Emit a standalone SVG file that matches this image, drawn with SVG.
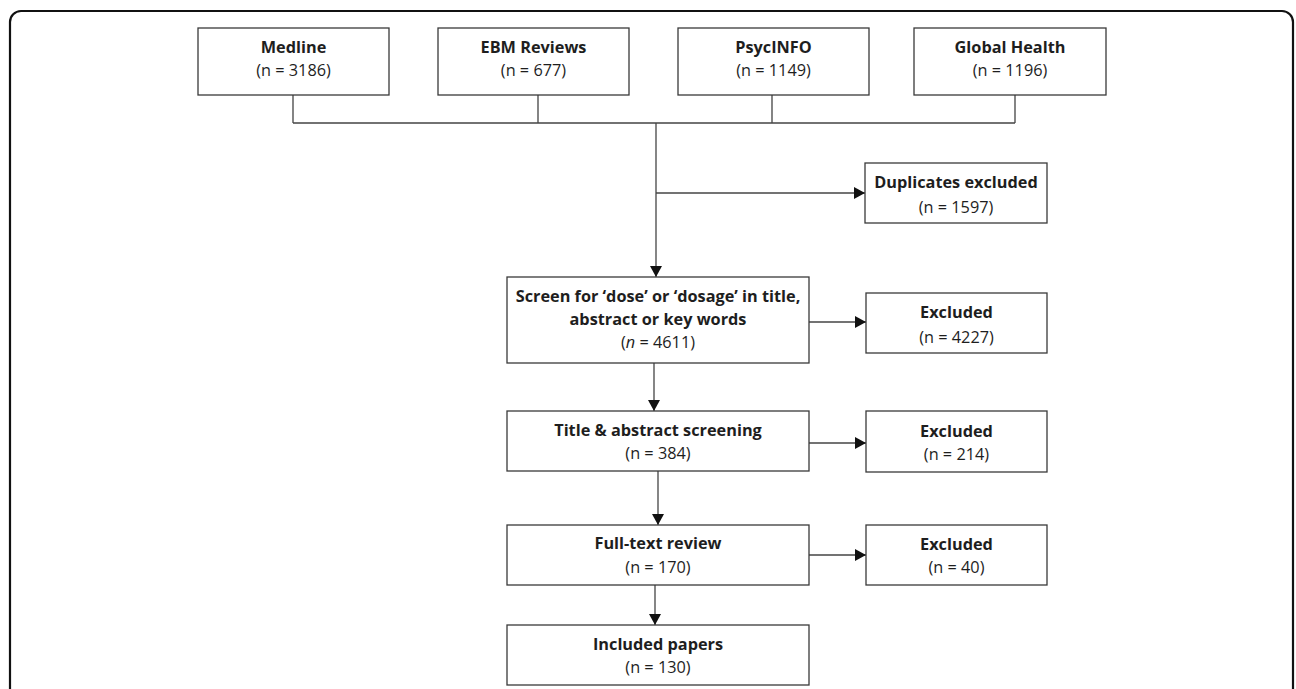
<svg xmlns="http://www.w3.org/2000/svg" width="1296" height="689" viewBox="0 0 1296 689">
<style>
.box{fill:#fff;stroke:#3a3a3a;stroke-width:1.3}
.frame{fill:#fff;stroke:#111;stroke-width:2.2}
.ln{fill:none;stroke:#444;stroke-width:1.3}
text{font-family:"Open Sans","Noto Sans","Liberation Sans",sans-serif;font-size:16.3px;fill:#1e1e1e;text-anchor:middle}
.b{font-weight:bold}
</style>
<defs>
<marker id="ah" markerWidth="11" markerHeight="12" refX="11" refY="6" orient="auto" markerUnits="userSpaceOnUse">
<path d="M0,0 L11,6 L0,12 Z" fill="#111"/>
</marker>
</defs>
<rect class="frame" x="10" y="11" width="1283" height="720" rx="11"/>
<g id="connectors">
<path class="ln" d="M293,95 V123 M538,95 V123 M772,95 V123 M1015,95 V123 M293,123 H1015"/>
<path class="ln" d="M656,123 V277" marker-end="url(#ah)"/>
<path class="ln" d="M656,193 H865" marker-end="url(#ah)"/>
<path class="ln" d="M809,322 H866" marker-end="url(#ah)"/>
<path class="ln" d="M654,363 V411" marker-end="url(#ah)"/>
<path class="ln" d="M809,443 H866" marker-end="url(#ah)"/>
<path class="ln" d="M658,471 V525" marker-end="url(#ah)"/>
<path class="ln" d="M809,555 H866" marker-end="url(#ah)"/>
<path class="ln" d="M655,585 V625" marker-end="url(#ah)"/>
</g>
<g id="medline"><rect class="box" x="198" y="28" width="191" height="67"/><text class="b" x="293.5" y="53">Medline</text><text x="293.5" y="76">(n = 3186)</text></g>
<g id="ebm"><rect class="box" x="438" y="28" width="191" height="67"/><text class="b" x="533.5" y="53">EBM Reviews</text><text x="533.5" y="76">(n = 677)</text></g>
<g id="psycinfo"><rect class="box" x="678" y="28" width="191" height="67"/><text class="b" x="773.5" y="53">PsycINFO</text><text x="773.5" y="76">(n = 1149)</text></g>
<g id="globalhealth"><rect class="box" x="914" y="28" width="192" height="67"/><text class="b" x="1010" y="53">Global Health</text><text x="1010" y="76">(n = 1196)</text></g>
<g id="duplicates"><rect class="box" x="865" y="163" width="182" height="60"/><text class="b" x="956" y="188">Duplicates excluded</text><text x="956" y="213">(n = 1597)</text></g>
<g id="screen"><rect class="box" x="507" y="277" width="302" height="86"/><text class="b" x="658" y="302">Screen for ‘dose’ or ‘dosage’ in title,</text><text class="b" x="658" y="325">abstract or key words</text><text x="658" y="348">(<tspan font-style="italic">n</tspan> = 4611)</text></g>
<g id="excluded1"><rect class="box" x="866" y="293" width="181" height="60"/><text class="b" x="956.5" y="318">Excluded</text><text x="956.5" y="343">(n = 4227)</text></g>
<g id="title"><rect class="box" x="507" y="411" width="302" height="60"/><text class="b" x="658" y="436">Title &amp; abstract screening</text><text x="658" y="459">(n = 384)</text></g>
<g id="excluded2"><rect class="box" x="866" y="411" width="181" height="61"/><text class="b" x="956.5" y="437">Excluded</text><text x="956.5" y="460">(n = 214)</text></g>
<g id="fulltext"><rect class="box" x="507" y="525" width="302" height="60"/><text class="b" x="658" y="549">Full-text review</text><text x="658" y="573">(n = 170)</text></g>
<g id="excluded3"><rect class="box" x="866" y="525" width="181" height="60"/><text class="b" x="956.5" y="550">Excluded</text><text x="956.5" y="573">(n = 40)</text></g>
<g id="included"><rect class="box" x="507" y="625" width="302" height="60"/><text class="b" x="658" y="650">Included papers</text><text x="658" y="673">(n = 130)</text></g>
</svg>
